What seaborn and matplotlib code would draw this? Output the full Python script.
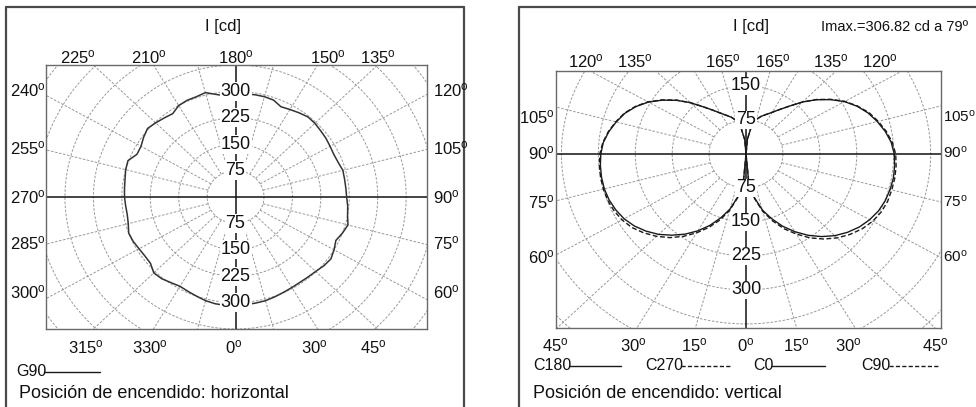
import numpy as np
import pandas as pd
import matplotlib
matplotlib.use("Agg")
import matplotlib.pyplot as plt
import seaborn as sns
from matplotlib.lines import Line2D

# ---------------- data ----------------
g90_angles = list(range(0, 361, 5))
g90_values = [308, 307, 306, 305, 302, 299, 297, 296, 297, 299,
              304, 307, 300, 292, 300, 307, 300, 297, 293, 292,
              292, 293, 288, 286, 288, 291, 293, 296, 297, 292,
              287, 283, 293, 295, 295, 294, 292, 288, 296, 307,
              303, 303, 300, 289, 293, 298, 303, 296, 288, 287,
              302, 300, 296, 294, 293, 291, 290, 293, 300, 298,
              294, 292, 293, 305, 303, 297, 293, 296, 300, 305,
              308, 309, 308]

c_angles = list(range(0, 181, 5))
c0_values = [0, 55, 98, 128, 152, 176, 198, 219, 238, 255, 269, 281, 290,
             297, 301, 303, 304, 303, 301, 296, 287, 276, 264, 249, 231,
             209, 186, 162, 138, 120, 106, 96, 88, 78, 60, 33, 0]
c90_values = [0, 56, 100, 131, 157, 182, 204, 226, 245, 262, 276, 288, 297,
              303, 306, 306.5, 306.8, 306, 304, 298, 289, 278, 266, 250, 232,
              210, 187, 162, 138, 120, 106, 96, 88, 78, 60, 33, 0]
c180_values = [0, 54, 96, 126, 150, 174, 196, 216, 234, 251, 265, 277, 286,
               292, 296, 298, 298, 297, 295, 291, 283, 273, 262, 247, 229,
               207, 184, 160, 136, 118, 104, 94, 86, 76, 58, 32, 0]
c270_values = [0, 55, 98, 129, 155, 179, 201, 222, 241, 257, 271, 283, 291,
               296, 299, 300, 300, 299, 297, 292, 284, 274, 263, 248, 230,
               208, 185, 160, 136, 118, 104, 94, 86, 76, 58, 32, 0]

ring_values_left = [75, 150, 225, 300]
ring_values_right_up = [75, 150]
ring_values_right_down = [75, 150, 225, 300]

left_top_labels = ["225", "210", "180", "150", "135"]
left_bottom_labels = ["315", "330", "0", "30", "45"]
left_left_labels = ["240", "255", "270", "285", "300"]
left_right_labels = ["120", "105", "90", "75", "60"]
right_top_labels = ["120", "135", "165", "165", "135", "120"]
right_bottom_labels = ["45", "30", "15", "0", "15", "30", "45"]
right_side_labels = ["105", "90", "75", "60"]

# ---------------- style ----------------
sns.set_theme(style="white")
plt.rcParams["font.family"] = ["Liberation Sans", "DejaVu Sans"]
plt.rcParams["mathtext.fontset"] = "custom"
plt.rcParams["mathtext.rm"] = "Liberation Sans"
plt.rcParams["mathtext.it"] = "Liberation Sans"

W, H = 976, 407
fig = plt.figure(figsize=(W / 100, H / 100), dpi=100)
fig.patch.set_facecolor("white")


def fx(px):
    return px / W


def fy(py):
    return 1 - py / H


axL = fig.add_axes([fx(46), fy(329), 381 / W, 264 / H])
axR = fig.add_axes([fx(556), fy(328), 385 / W, 257 / H])

GRID_C = "#999999"


def polar_grid(ax):
    t = np.linspace(0, 2 * np.pi, 721)
    for r in range(75, 900, 75):
        ax.plot(r * np.sin(t), -r * np.cos(t), color=GRID_C, lw=0.7,
                ls=(0, (2.6, 1.6)), zorder=1)
    for a in range(0, 360, 15):
        if a % 90 == 0:
            continue
        ar = np.deg2rad(a)
        ax.plot([75 * np.sin(ar), 1200 * np.sin(ar)],
                [-75 * np.cos(ar), -1200 * np.cos(ar)],
                color=GRID_C, lw=0.7, ls=(0, (2.6, 1.6)), zorder=1)
    ax.axhline(0, color="#111111", lw=1.1, zorder=2)
    ax.axvline(0, color="#111111", lw=1.1, zorder=2)
    for s in ax.spines.values():
        s.set_color("#6a6a6a")
        s.set_linewidth(1.0)
    ax.set_xticks([])
    ax.set_yticks([])


polar_grid(axL)
polar_grid(axR)

# ---------------- left: G90 ----------------
th = np.deg2rad(np.array(g90_angles, dtype=float))
rv = np.array(g90_values, dtype=float)
dfL = pd.DataFrame({"x": rv * np.sin(th), "y": -rv * np.cos(th)})
sns.lineplot(data=dfL, x="x", y="y", sort=False, estimator=None, color="#333333",
             lw=1.1, ax=axL, zorder=3)
axL.set_xlim(-500, 505)
axL.set_ylim(-375, 375)

RING_FS = 13
for r in ring_values_left:
    for sgn in (1, -1):
        axL.text(0, sgn * r, str(r), ha="center", va="center", fontsize=RING_FS,
                 color="#111111", zorder=6,
                 bbox=dict(boxstyle="square,pad=0.05", fc="white", ec="none"))

# ---------------- right: C planes ----------------
tc = np.deg2rad(np.array(c_angles, dtype=float))


def lobe(vals, side):
    r = np.array(vals, dtype=float)
    return pd.DataFrame({"x": side * r * np.sin(tc), "y": -r * np.cos(tc)})


for vals, side, dash in [(c180_values, -1, False), (c270_values, -1, True),
                         (c0_values, 1, False), (c90_values, 1, True)]:
    d = lobe(vals, side)
    sns.lineplot(data=d, x="x", y="y", sort=False, estimator=None,
                 color="#1a1a1a", lw=1.0, ax=axR, zorder=3,
                 linestyle=(0, (3.5, 1.8)) if dash else "-")
axR.set_xlim(-386, 396)
axR.set_ylim(-384, 183)
for ax in (axL, axR):
    ax.set_xlabel("")
    ax.set_ylabel("")

for r in ring_values_right_up:
    axR.text(0, r, str(r), ha="center", va="center", fontsize=RING_FS, color="#111111",
             zorder=6, bbox=dict(boxstyle="square,pad=0.05", fc="white", ec="none"))
for r in ring_values_right_down:
    axR.text(0, -r, str(r), ha="center", va="center", fontsize=RING_FS, color="#111111",
             zorder=6, bbox=dict(boxstyle="square,pad=0.05", fc="white", ec="none"))

# ---------------- angle labels ----------------
LBL = 12


def deg(s):
    return r"$\mathregular{" + s + "^{o}}$"


def ftext(px, py, s, ha="center", size=LBL, **kw):
    fig.text(fx(px), fy(py), s, ha=ha, va="center", fontsize=size, color="#111111", **kw)


for s, px in zip(left_top_labels, [78, 149, 236, 328, 378]):
    ftext(px, 57, deg(s))
for s, px in zip(left_bottom_labels, [86, 150, 234, 314, 373]):
    ftext(px, 347, deg(s))
for s, py in zip(left_left_labels, [90, 148, 197, 243, 292]):
    ftext(10, py, deg(s), ha="left")
for s, py in zip(left_right_labels, [90, 148, 197, 243, 292]):
    ftext(433, py, deg(s), ha="left")

for s, px in zip(right_top_labels, [586, 635, 723, 773, 831, 880]):
    ftext(px, 61, deg(s))
for s, px in zip(right_bottom_labels, [555, 633, 694, 746, 796, 848, 935]):
    ftext(px, 345, deg(s))
for s, py in zip(right_side_labels, [117, 153, 202, 257]):
    ftext(555, py, deg(s), ha="right")
    ftext(943, py, deg(s), ha="left", size=11)

ftext(223, 27, "I [cd]")
ftext(751, 27, "I [cd]")
ftext(821, 27, "Imax.=306.82 cd a 79º", ha="left", size=10.5)

# ---------------- legends ----------------
def fline(x0, x1, py, dashed=False):
    fig.add_artist(Line2D([fx(x0), fx(x1)], [fy(py), fy(py)], transform=fig.transFigure,
                          color="#1a1a1a", lw=1.0,
                          linestyle=(0, (3, 1.6)) if dashed else "-"))


LEG_Y = 366
ftext(16, 372, "G90", ha="left", size=11.5)
fline(44, 100, 372)
ftext(533, LEG_Y, "C180", ha="left", size=11.5)
fline(569, 621, LEG_Y)
ftext(645, LEG_Y, "C270", ha="left", size=11.5)
fline(681, 731, LEG_Y, dashed=True)
ftext(753, LEG_Y, "C0", ha="left", size=11.5)
fline(772, 825, LEG_Y)
ftext(861, LEG_Y, "C90", ha="left", size=11.5)
fline(889, 940, LEG_Y, dashed=True)

fig.text(fx(19), fy(394), "Posición de encendido: horizontal", ha="left", va="center",
         fontsize=13, color="#111111")
fig.text(fx(533), fy(394), "Posición de encendido: vertical", ha="left", va="center",
         fontsize=13, color="#111111")

# ---------------- outer frames ----------------
FR = "#4a4a4a"
for xs, ys in [([6, 6], [7, 407]), ([6, 464], [7, 7]), ([464, 464], [7, 407]),
               ([519, 519], [7, 407]), ([519, 976], [7, 7])]:
    fig.add_artist(Line2D([fx(x) for x in xs], [fy(y) for y in ys],
                          transform=fig.transFigure, color=FR, lw=1.6))

fig.savefig("out.png", dpi=100, facecolor="white")
